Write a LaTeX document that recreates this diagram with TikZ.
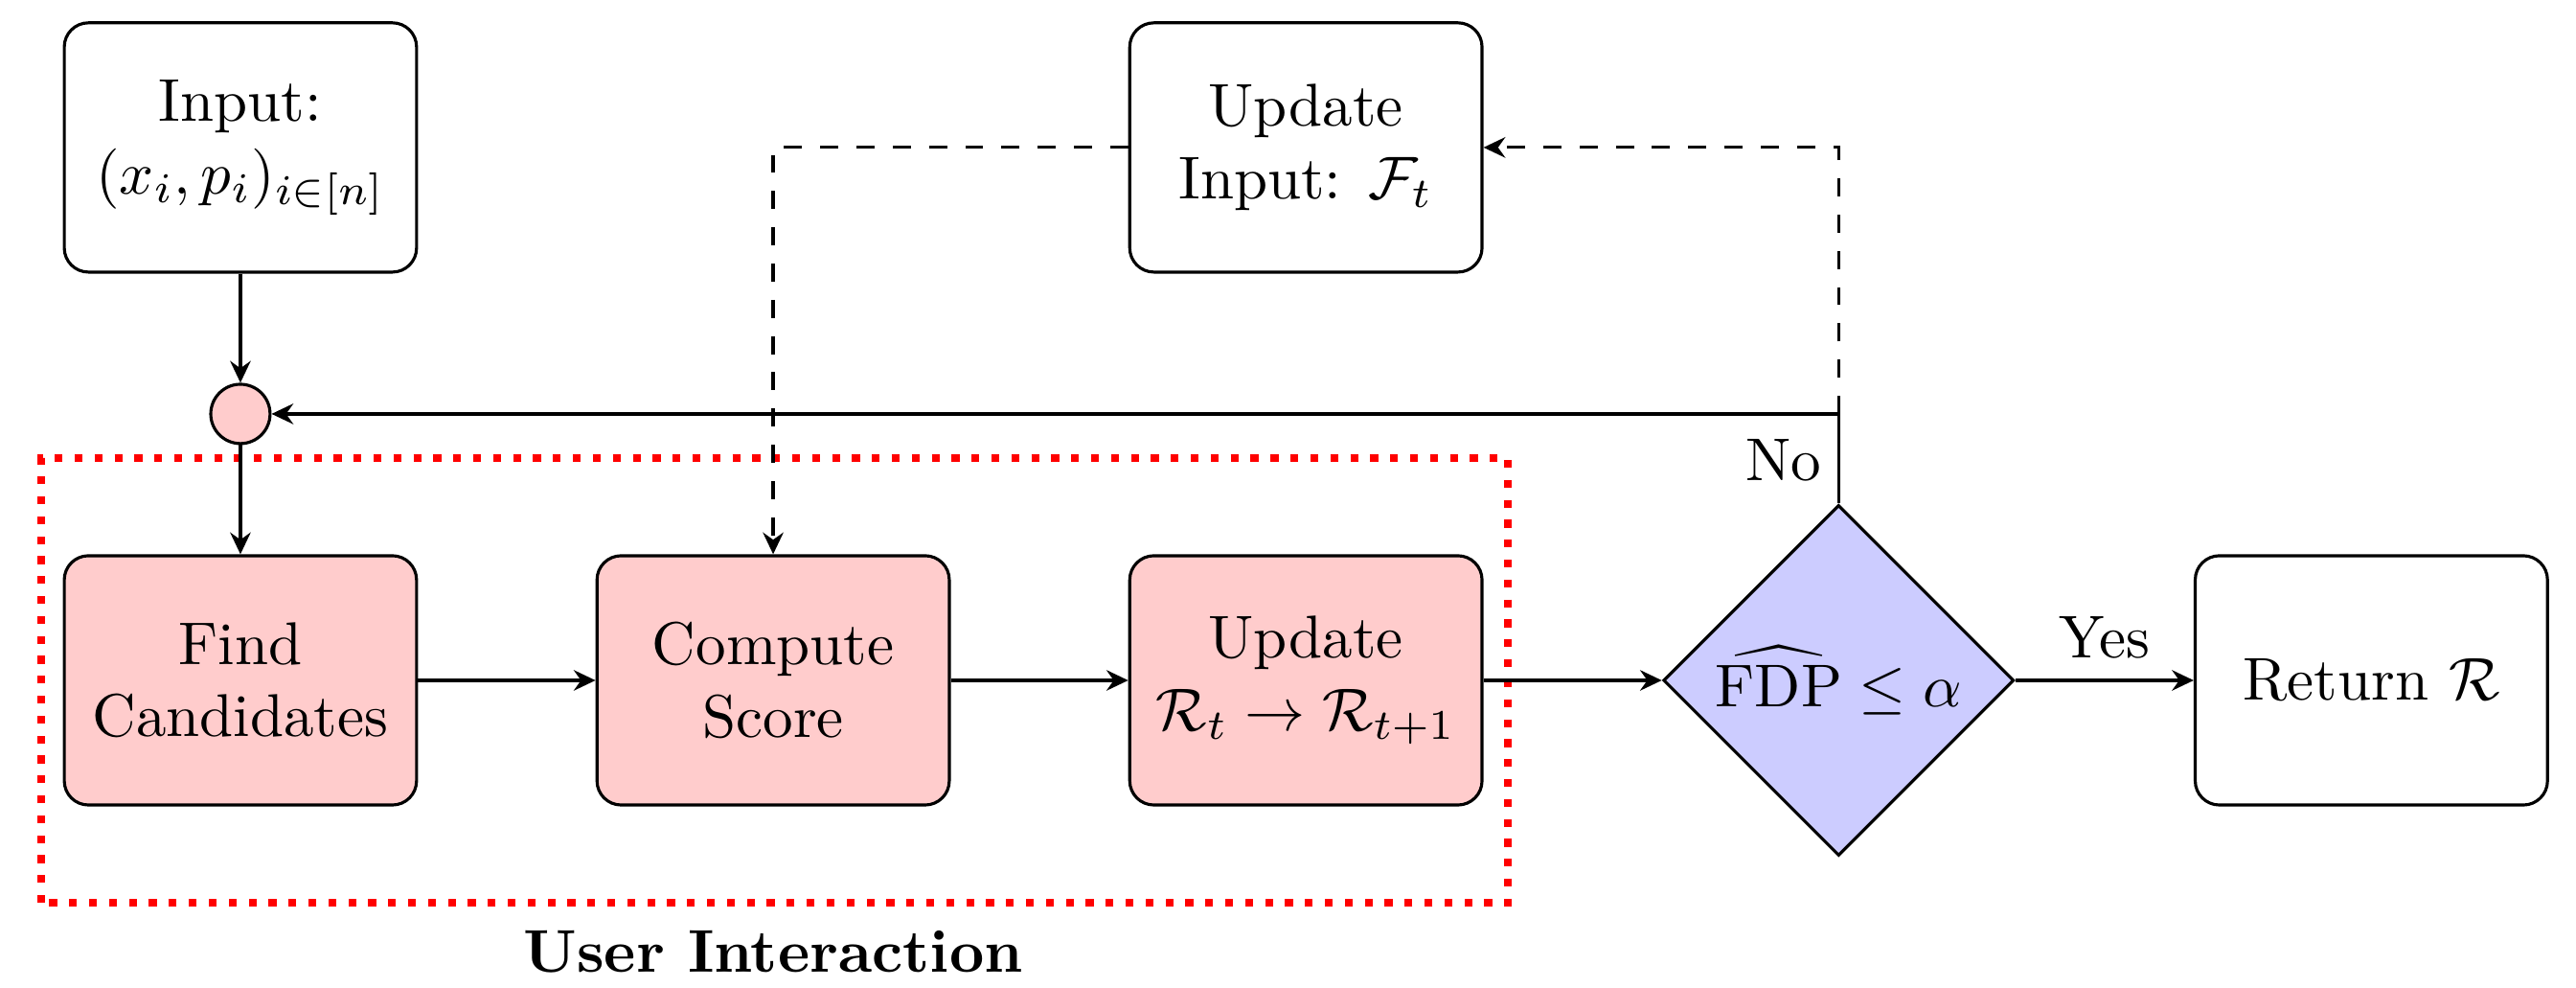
\documentclass[tikz,border=0pt]{standalone}
\usetikzlibrary{shapes.geometric,arrows.meta}
\begin{document}
\begin{tikzpicture}[
  box/.style={draw, rounded corners, minimum width=2.05cm, minimum height=1.45cm, align=center, line width=0.5pt},
  pinkbox/.style={box, fill=red!20},
  decision/.style={diamond, draw, fill=blue!20, minimum width=2.04cm, minimum height=2.04cm, inner sep=0pt, aspect=1, line width=0.5pt},
  junction/.style={circle, draw, fill=red!20, minimum size=0.345cm, inner sep=0pt, line width=0.5pt},
  conn/.style={-{Stealth[length=3.6pt,width=3.4pt,inset=1.2pt]}, line width=0.5pt},
  solidline/.style={line width=0.5pt},
  fb/.style={dashed, line width=0.5pt},
  groupbox/.style={draw=red, line width=1.3pt, dotted}
]
\useasboundingbox (-1.399,-1.784) rectangle (13.591,3.958);
\node[box] (input) at (0,3.1) {Input:\\ $(x_i,p_i)_{i\in[n]}$};
\node[junction] (join) at (0,1.55) {};
\node[pinkbox] (find) at (0,0) {Find\\ Candidates};
\node[pinkbox] (score) at (3.1,0) {Compute\\ Score};
\node[pinkbox] (update) at (6.2,0) {Update\\ $\mathcal{R}_t \to \mathcal{R}_{t+1}$};
\node[box] (upinput) at (6.2,3.1) {Update\\ Input: $\mathcal{F}_t$};
\node[decision] (test) at (9.3,0) {$\widehat{\mathrm{FDP}} \leq \alpha$};
\node[box] (ret) at (12.4,0) {Return $\mathcal{R}$};
\draw[groupbox] (-1.16,-1.295) rectangle (7.375,1.293);
\node[font=\bfseries] (ui) at (3.1,-1.58) {User Interaction};
\node (no) at (8.98,1.28) {No};
\coordinate (split) at (9.3,1.55);
\coordinate (topc) at (9.3,3.1);
\coordinate (bend) at (3.1,3.1);
\draw[conn] (input) -- (join);
\draw[conn] (join) -- (find);
\draw[conn] (find) -- (score);
\draw[conn] (score) -- (update);
\draw[conn] (update) -- (test);
\draw[conn] (test) -- node[above] (yes) {Yes} (ret);
\draw[conn] (test.north) -- (split) -- (join.east);
\draw[fb,conn] (split) -- (topc) -- (upinput.east);
\draw[fb,conn] (upinput.west) -- (bend) -- (score.north);
\end{tikzpicture}
\end{document}
